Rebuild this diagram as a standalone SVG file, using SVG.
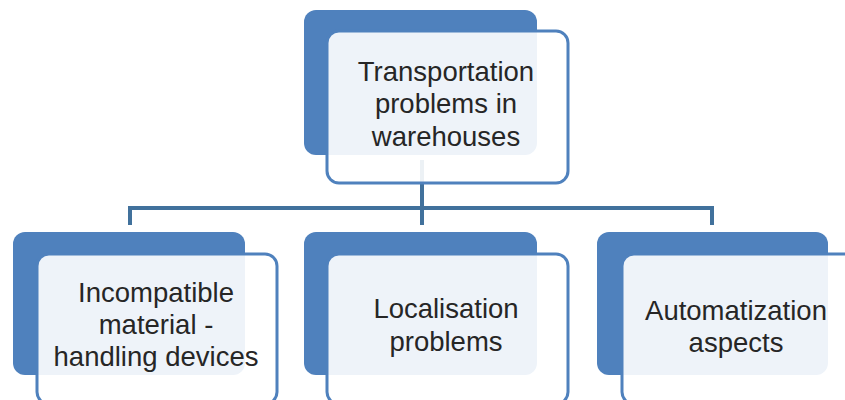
<svg xmlns="http://www.w3.org/2000/svg" width="845" height="400" viewBox="0 0 845 400">
<style>
.back{fill:#4f81bd;}
.front{fill:#ffffff;fill-opacity:0.9;stroke:#4f81bd;stroke-width:3;}
.lbl{font-family:"Liberation Sans",Arial,sans-serif;font-size:27.5px;fill:#262626;text-anchor:middle;}
.conn{fill:none;stroke:#41719c;stroke-width:4;}
</style>
<rect width="845" height="400" fill="#ffffff"/>
<g id="connectors">
<path class="conn" d="M422,160 V208 M130,225 V208 H712 V225 M422,208 V225"/>
</g>
<g id="node-top">
<rect class="back" x="304" y="10" width="233" height="145" rx="12"/>
<rect class="front" x="327" y="31" width="241" height="152" rx="12"/>
<text class="lbl" x="446" y="81">Transportation</text>
<text class="lbl" x="446" y="113">problems in</text>
<text class="lbl" x="446" y="146">warehouses</text>
</g>
<g id="node-left">
<rect class="back" x="13" y="232" width="232" height="143" rx="12"/>
<rect class="front" x="37" y="254" width="240" height="150" rx="12"/>
<text class="lbl" x="156" y="302">Incompatible</text>
<text class="lbl" x="156" y="334">material -</text>
<text class="lbl" x="156" y="366">handling devices</text>
</g>
<g id="node-middle">
<rect class="back" x="304" y="232" width="233" height="143" rx="12"/>
<rect class="front" x="327" y="254" width="241" height="150" rx="12"/>
<text class="lbl" x="446" y="318">Localisation</text>
<text class="lbl" x="446" y="351">problems</text>
</g>
<g id="node-right">
<rect class="back" x="597" y="232" width="231" height="143" rx="12"/>
<rect class="front" x="622" y="254" width="241" height="150" rx="12"/>
<text class="lbl" x="736" y="320">Automatization</text>
<text class="lbl" x="736" y="352">aspects</text>
</g>
</svg>
